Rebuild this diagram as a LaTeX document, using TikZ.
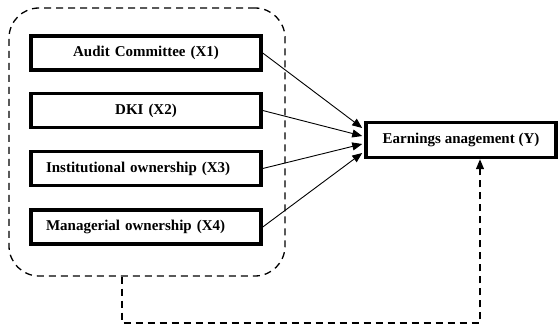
\documentclass[tikz,border=0pt]{standalone}
\usepackage{fontspec}
\setmainfont{Liberation Serif}
\usetikzlibrary{arrows.meta}
\begin{document}
\begin{tikzpicture}[x=1pt,y=-1pt,
	varbox/.style={draw, line width=3.5pt, minimum height=34pt, text width=200pt, inner xsep=15pt, font=\fontsize{15}{17}\selectfont\bfseries},
	arr/.style={-{Triangle[length=10pt,width=8pt]}, line width=0.9pt},
	dsh/.style={line width=1.3pt, dash pattern=on 7pt off 5pt}]
	\useasboundingbox (0,0) rectangle (558,329);
	% group of the four variables
	\node[draw, dsh, rounded corners=30pt, minimum width=276pt, minimum height=268pt] (grp) at (147,142) {};
	\node[varbox, align=center] (x1) at (146,53) {Audit Committee (X1)};
	\node[varbox, align=center] (x2) at (146,110.5) {DKI (X2)};
	\node[varbox, align=left] (x3) at (146,168.5) {Institutional ownership (X3)};
	\node[varbox, align=left] (x4) at (146,227) {Managerial ownership (X4)};
	\node[draw, line width=3.5pt, minimum width=190pt, minimum height=35pt, font=\fontsize{15}{17}\selectfont\bfseries] (ym) at (461,140) {Earnings anagement (Y)};
	\draw[arr] (x1.east) -- ([xshift=-2pt,yshift=12pt]ym.west);
	\draw[arr] (x2.east) -- ([xshift=-2pt,yshift=4pt]ym.west);
	\draw[arr] (x3.east) -- ([xshift=-2pt,yshift=-4pt]ym.west);
	\draw[arr] (x4.east) -- ([xshift=-2pt,yshift=-13pt]ym.west);
	% simultaneous effect
	\coordinate (fbs) at (122,0);
	\coordinate (fb) at (480,323);
	\draw[dsh, -{Triangle[length=10pt,width=8pt]}] (grp.south -| fbs) |- (fb) -- (fb |- ym.south);
\end{tikzpicture}
\end{document}
